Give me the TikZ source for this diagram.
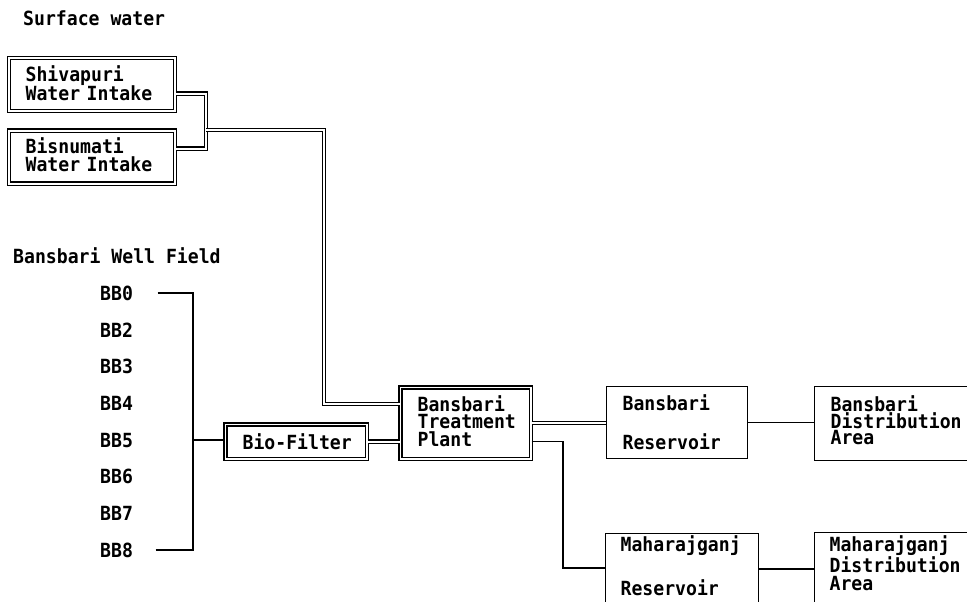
\documentclass[tikz,border=0pt]{standalone}
\usepackage{fontspec}
\setmainfont{DejaVu Sans Mono}[FakeStretch=0.93]
\usetikzlibrary{calc}
\tikzset{
  pipebox/.style={draw, line width=1.3pt, double=white, double distance=1.8pt,
    anchor=north west, inner ysep=0pt, align=left},
  plainbox/.style={draw, line width=1.3pt, anchor=north west, inner ysep=0pt, align=left},
  pipe/.style={draw, line width=1.3pt, double=white, double distance=1.8pt, line join=miter},
  wire/.style={draw, line width=1.3pt},
  lbl/.style={anchor=base west, inner sep=0pt},
}
\newcommand{\dpt}[1]{\rule[-#1]{0pt}{#1}}
\begin{document}
\begin{tikzpicture}[x=1pt, y=-1pt, font=\fontsize{19.5}{16}\selectfont\bfseries]
\useasboundingbox (0,0) rectangle (967,602);

% texts
\node[lbl] (sw) at (23,26) {Surface water};
\node[lbl] (wf) at (13,263) {Bansbari Well Field};

% intakes
\node[pipebox, minimum width=166pt, minimum height=53pt, inner xsep=16.5pt, text width=133pt,
  font=\fontsize{19.5}{19}\selectfont\bfseries] (shiv) at (8.5,57.5) {Shivapuri\\Water Intake\dpt{3.8pt}};
\node[pipebox, minimum width=166pt, minimum height=53pt, inner xsep=16.5pt, text width=133pt,
  font=\fontsize{19.5}{18}\selectfont\bfseries] (bisn) at (8.5,130) {Bisnumati\\Water Intake\dpt{5.8pt}};

% wells
\node[lbl] (bb0) at (100,300) {BB0};
\node[lbl] (bb2) at (100,337) {BB2};
\node[lbl] (bb3) at (100,373) {BB3};
\node[lbl] (bb4) at (100,410) {BB4};
\node[lbl] (bb5) at (100,447) {BB5};
\node[lbl] (bb6) at (100,483) {BB6};
\node[lbl] (bb7) at (100,520) {BB7};
\node[lbl] (bb8) at (100,557) {BB8};

% bio filter
\node[pipebox, minimum width=141.4pt, minimum height=34.4pt, inner xsep=17.2pt, text width=107pt]
  (bio) at (224.8,423.8) {\mbox{Bio-Filter}};

% treatment plant
\node[pipebox, minimum width=130.4pt, minimum height=71.4pt, inner xsep=17.2pt, text width=96pt,
  font=\fontsize{19.5}{17.5}\selectfont\bfseries] (tp) at (399.8,386.8) {Bansbari\\Treatment\\Plant\dpt{4.8pt}};

% reservoirs
\node[plainbox, minimum width=141pt, minimum height=72pt, inner xsep=16.5pt, text width=108pt]
  (resB) at (605.5,385.5) {Bansbari\\[21pt]Reservoir};
\node[plainbox, minimum width=153pt, minimum height=87.5pt, inner xsep=15.5pt, text width=122pt]
  (resM) at (604.5,532.5) {Maharajganj\\[23pt]Reservoir\dpt{22.3pt}};

% distribution areas
\node[plainbox, minimum width=176.5pt, minimum height=74pt, inner xsep=16.5pt, text width=143.5pt]
  (distB) at (813.5,385.5) {Bansbari\\Distribution\\Area\dpt{5.8pt}};
\node[plainbox, minimum width=176.5pt, minimum height=88.5pt, inner xsep=15.5pt, text width=145.5pt,
  font=\fontsize{19.5}{17.5}\selectfont\bfseries]
  (distM) at (813.5,531.5) {Maharajganj\\Distribution\\Area\dpt{26.3pt}};

% junction coordinates
\coordinate (j1) at (206,130);
\coordinate (j2) at (324,404);
\coordinate (br) at (193,440);
\coordinate (j3) at (563,568);

% surface water pipes
\draw[pipe] ([yshift=-9pt]shiv.east) -| (j1) |- ([yshift=8.5pt]bisn.east);
\draw[pipe] (j1) -| (j2) -- (j2 -| tp.west);

% well field collector
\draw[wire] ([xshift=24.5pt]bb0.east) -| (br);
\draw[wire] ([xshift=22.5pt]bb8.east) -| (br);
\draw[wire] (br) -- (br -| bio.west);
\draw[pipe] (bio.east) -- (bio.east -| tp.west);

% outlets
\draw[pipe] (tp.east) -- (tp.east -| resB.west);
\draw[wire] ([yshift=-18.5pt]tp.east) -| (j3) -- (j3 -| resM.west);
\draw[wire] (resB.east) -- (resB.east -| distB.west);
\draw[wire] ([yshift=8pt]resM.east) -- ([yshift=8pt]resM.east -| distM.west);
\end{tikzpicture}
\end{document}
